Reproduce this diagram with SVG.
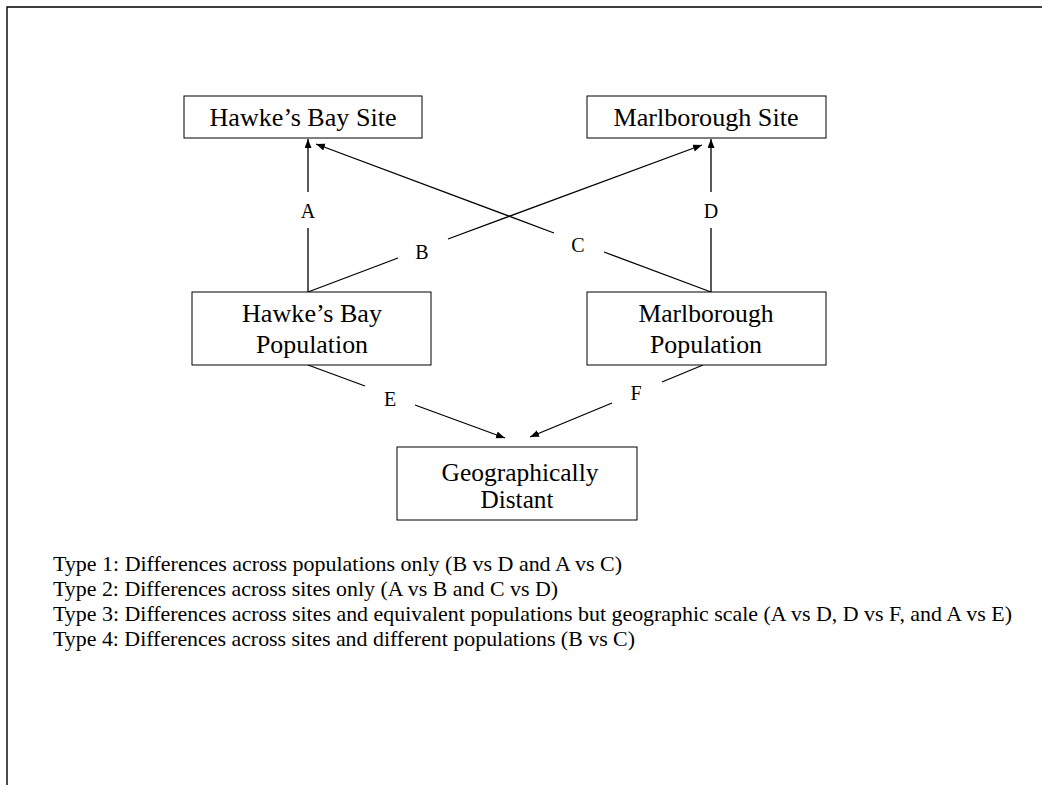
<svg xmlns="http://www.w3.org/2000/svg" width="1042" height="785" viewBox="0 0 1042 785">
<defs>
<style>
.box{fill:#fff;stroke:#000;stroke-width:1}
.nt{font-family:"Liberation Serif","Times New Roman",serif;font-size:25px;fill:#000;text-anchor:middle}
.lb{font-family:"Liberation Serif","Times New Roman",serif;font-size:20px;fill:#000;text-anchor:middle}
.lg{font-family:"Liberation Serif","Times New Roman",serif;font-size:21px;fill:#000}
.cn{fill:none;stroke:#000;stroke-width:1.3}
.frame{fill:none;stroke:#000;stroke-width:1.4}
</style>
<marker id="ah" markerUnits="userSpaceOnUse" markerWidth="10" markerHeight="8" refX="9" refY="3.5" orient="auto">
<path d="M0,0 L9,3.5 L0,7 z" fill="#000"/>
</marker>
</defs>
<rect width="1042" height="785" fill="#fff"/>
<path class="frame" d="M7,785 L7,7 L1042,7"/>

<g id="connectors">
<path class="cn" d="M308,292 L308,228"/>
<path class="cn" d="M308,192 L308,139" marker-end="url(#ah)"/>
<path class="cn" d="M711,292 L711,228"/>
<path class="cn" d="M711,192 L711,139" marker-end="url(#ah)"/>
<path class="cn" d="M308,292 L398,258"/>
<path class="cn" d="M448,239 L702,145" marker-end="url(#ah)"/>
<path class="cn" d="M711,292 L604,252"/>
<path class="cn" d="M554,233 L316,144" marker-end="url(#ah)"/>
<path class="cn" d="M308,365 L365,386"/>
<path class="cn" d="M415,405 L505,438" marker-end="url(#ah)"/>
<path class="cn" d="M703,365 L662,382"/>
<path class="cn" d="M612,403 L530,437" marker-end="url(#ah)"/>
<text class="lb" x="308" y="218">A</text>
<text class="lb" x="711" y="218">D</text>
<text class="lb" x="422" y="259">B</text>
<text class="lb" x="578" y="252">C</text>
<text class="lb" x="390" y="406">E</text>
<text class="lb" x="636" y="400">F</text>
</g>

<g id="hb-site">
<rect class="box" x="184" y="96" width="238" height="42"/>
<text class="nt" x="303" y="126" textLength="187" lengthAdjust="spacingAndGlyphs">Hawke’s Bay Site</text>
</g>
<g id="marl-site">
<rect class="box" x="587" y="96" width="239" height="42"/>
<text class="nt" x="706" y="126" textLength="185" lengthAdjust="spacingAndGlyphs">Marlborough Site</text>
</g>
<g id="hb-pop">
<rect class="box" x="192" y="292" width="239" height="73"/>
<text class="nt" x="312" y="322" textLength="140" lengthAdjust="spacingAndGlyphs">Hawke’s Bay</text>
<text class="nt" x="312" y="353" textLength="112" lengthAdjust="spacingAndGlyphs">Population</text>
</g>
<g id="marl-pop">
<rect class="box" x="587" y="292" width="239" height="73"/>
<text class="nt" x="706" y="322" textLength="135" lengthAdjust="spacingAndGlyphs">Marlborough</text>
<text class="nt" x="706" y="353" textLength="112" lengthAdjust="spacingAndGlyphs">Population</text>
</g>
<g id="geo">
<rect class="box" x="397" y="447" width="240" height="73"/>
<text class="nt" x="520" y="481" textLength="157" lengthAdjust="spacingAndGlyphs">Geographically</text>
<text class="nt" x="517" y="508" textLength="73" lengthAdjust="spacingAndGlyphs">Distant</text>
</g>

<g id="legend">
<text class="lg" x="53" y="571" textLength="569" lengthAdjust="spacingAndGlyphs">Type 1: Differences across populations only (B vs D and A vs C)</text>
<text class="lg" x="53" y="596" textLength="505" lengthAdjust="spacingAndGlyphs">Type 2: Differences across sites only (A vs B and C vs D)</text>
<text class="lg" x="53" y="621" textLength="959" lengthAdjust="spacingAndGlyphs">Type 3: Differences across sites and equivalent populations but geographic scale (A vs D, D vs F, and A vs E)</text>
<text class="lg" x="53" y="646" textLength="582" lengthAdjust="spacingAndGlyphs">Type 4: Differences across sites and different populations (B vs C)</text>
</g>
</svg>
